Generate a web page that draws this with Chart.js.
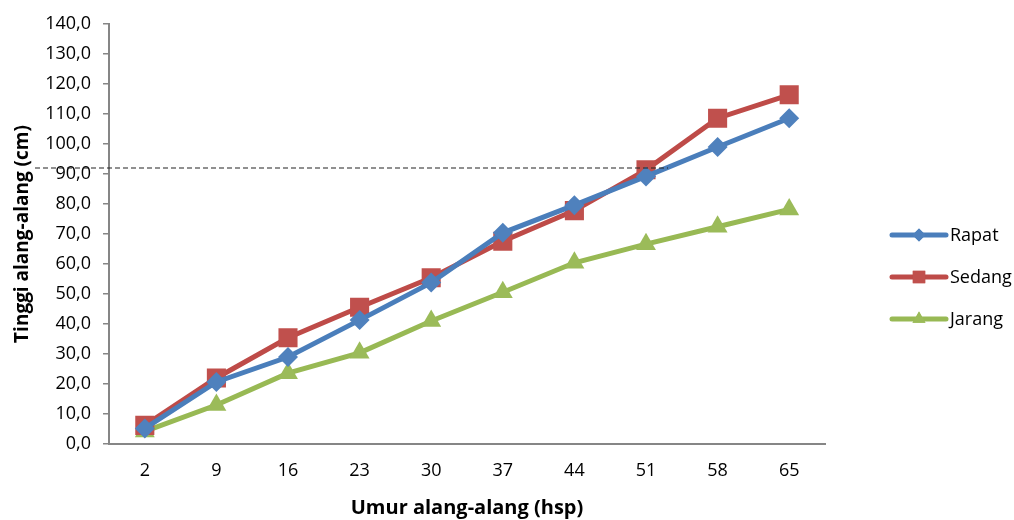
<!DOCTYPE html>
<html>
<head>
<meta charset="utf-8">
<script src="https://cdn.jsdelivr.net/npm/chart.js@4.4.1/dist/chart.umd.min.js"></script>
<style>
    html, body { margin: 0; padding: 0; background: #ffffff; }
    #wrap { width: 1014px; height: 520px; }
</style>
</head>
<body>
<div id="wrap"><canvas id="chart" width="1014" height="520"></canvas></div>
<script>
//Chart values
const ages = ["2", "9", "16", "23", "30", "37", "44", "51", "58", "65"];
const rapat = [5.2, 20.7, 29.0, 41.3, 53.8, 70.4, 79.6, 89.2, 99.0, 108.6];
const sedang = [6.2, 22.0, 35.4, 45.6, 55.4, 67.6, 77.8, 91.4, 108.6, 116.4];
const jarang = [4.2, 13.0, 23.6, 30.4, 41.0, 50.6, 60.4, 66.6, 72.4, 78.2];
const refValue = 92;

const fontName = "'Open Sans', 'Noto Sans', sans-serif";
const axisColor = "#868686";

//Makes one line dataset
function makeSeries(label, data, line, fill, shape, r){
    return {
        label: label,
        data: data,
        borderColor: line,
        backgroundColor: fill,
        pointBackgroundColor: fill,
        pointBorderColor: fill,
        pointBorderWidth: 0,
        pointStyle: shape,
        pointRadius: r,
        pointHoverRadius: r,
        borderWidth: 5,
        tension: 0,
        fill: false,
        legendRadius: r * 0.65,
    };
}

//Dashed reference line, drawn over the series
const refLinePlugin = {
    id: "refLine",
    afterDatasetsDraw(chart){
        let ctx = chart.ctx,
            x = chart.scales.x,
            y = chart.scales.y.getPixelForValue(refValue);
        ctx.save();
        ctx.strokeStyle = "#222222";
        ctx.lineWidth = 1.2;
        ctx.setLineDash([5, 3]);
        ctx.beginPath();
        ctx.moveTo(x.left - 74, y);
        ctx.lineTo(x.getPixelForValue(7) + 22, y);
        ctx.stroke();
        ctx.restore();
    },
};

//Excel-like legend: short line with the marker in its middle
const sideLegendPlugin = {
    id: "sideLegend",
    afterDraw(chart){
        let ctx = chart.ctx,
            x0 = chart.chartArea.right + 67,
            y0 = chart.chartArea.top + 211;
        chart.data.datasets.forEach((ds, i) => {
            let y = y0 + i * 42;
            ctx.save();
            ctx.strokeStyle = ds.borderColor;
            ctx.lineWidth = 5;
            ctx.lineCap = "round";
            ctx.beginPath();
            ctx.moveTo(x0, y);
            ctx.lineTo(x0 + 54, y);
            ctx.stroke();
            ctx.fillStyle = ds.backgroundColor;
            Chart.helpers.drawPoint(ctx, {
                pointStyle: ds.pointStyle,
                radius: ds.legendRadius,
                borderWidth: 0,
                rotation: 0,
            }, x0 + 27, y);
            ctx.fill();
            ctx.fillStyle = "#000000";
            ctx.font = "18px " + fontName;
            ctx.textBaseline = "middle";
            ctx.textAlign = "left";
            ctx.fillText(ds.label, x0 + 58, y + 1);
            ctx.restore();
        });
    },
};

let lineChart = new Chart("chart", {
    type: "line",
    data: {
        labels: ages,
        datasets: [
            makeSeries("Rapat", rapat, "#4A7EBB", "#4F81BD", "rectRot", 10),
            makeSeries("Sedang", sedang, "#BE4B48", "#C0504D", "rect", 13.5),
            makeSeries("Jarang", jarang, "#98B954", "#9BBB59", "triangle", 11.5),
        ],
    },
    options: {
        responsive: false,
        animation: false,
        layout: {
            padding: { top: 24, right: 189, left: 0, bottom: 0 },
        },
        plugins: {
            legend: { display: false },
            tooltip: { enabled: false },
        },
        scales: {
            x: {
                offset: true,
                grid: { display: false, drawTicks: false },
                border: { display: true, color: axisColor, width: 2 },
                ticks: {
                    color: "#000000",
                    padding: 16,
                    font: { family: fontName, size: 18 },
                },
                title: {
                    display: true,
                    text: "Umur alang-alang (hsp)",
                    color: "#000000",
                    font: { family: fontName, size: 20, weight: "bold" },
                    padding: { top: 0, bottom: 0 },
                },
                afterFit(scale){ scale.height = 76; },
            },
            y: {
                min: 0,
                max: 140,
                grid: {
                    drawOnChartArea: false,
                    drawTicks: true,
                    tickLength: 6,
                    color: axisColor,
                    lineWidth: 1.5,
                },
                border: { display: true, color: axisColor, width: 2 },
                ticks: {
                    stepSize: 10,
                    color: "#000000",
                    padding: 12,
                    font: { family: fontName, size: 18 },
                    callback: v => v.toFixed(1).replace(".", ","),
                },
                title: {
                    display: true,
                    text: "Tinggi alang-alang (cm)",
                    color: "#000000",
                    font: { family: fontName, size: 19, weight: "bold" },
                    padding: { top: 11, bottom: 0 },
                },
                afterFit(scale){ scale.width = 109; },
            },
        },
    },
    plugins: [refLinePlugin, sideLegendPlugin],
});
</script>
</body>
</html>
